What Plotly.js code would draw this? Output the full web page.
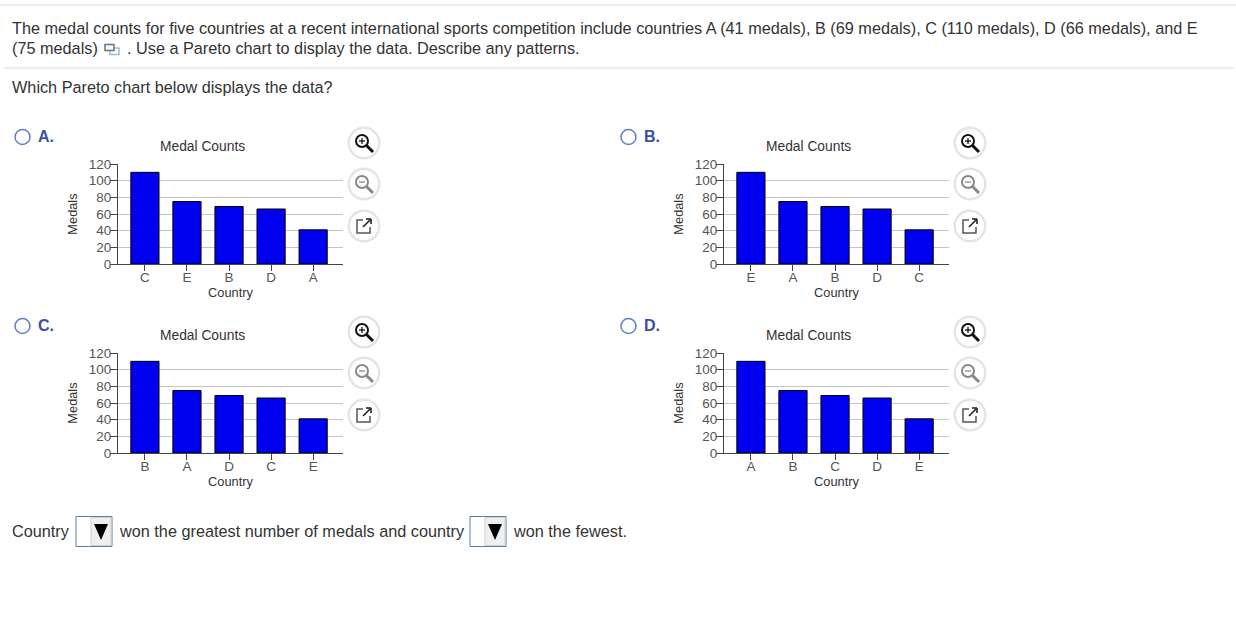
<!DOCTYPE html>
<html><head><meta charset="utf-8">
<script src="https://cdn.plot.ly/plotly-3.0.1.min.js"></script>
<style>html,body{margin:0;padding:0;background:#fff;overflow:hidden}#g{width:1236px;height:623px}</style>
</head><body><div id="g"></div>
<script>
const medals = [110, 75, 69, 66, 41];
const countriesA = ['C','E','B','D','A'];
const countriesB = ['E','A','B','D','C'];
const countriesC = ['B','A','D','C','E'];
const countriesD = ['A','B','C','D','E'];
const yTicks = [0,20,40,60,80,100,120];
const chartTitle = 'Medal Counts';
const xTitle = 'Country';
const yTitle = 'Medals';
const optionNames = ['A.','B.','C.','D.'];

const W=1236,H=623;
const px=x=>x/W, py=y=>1-y/H;
const FONT='"Liberation Sans", Arial, sans-serif';
const INK='#333333';
const BODY=16.25;
const panels=[
 {cats:countriesA,x0:118,top:164,rx:15,ry:136,n:optionNames[0]},
 {cats:countriesB,x0:724,top:164,rx:621,ry:136,n:optionNames[1]},
 {cats:countriesC,x0:118,top:353,rx:15,ry:325,n:optionNames[2]},
 {cats:countriesD,x0:724,top:353,rx:621,ry:325,n:optionNames[3]}
];
const data=[],layout={
 width:W,height:H,margin:{l:0,r:0,t:0,b:0},paper_bgcolor:'#fff',plot_bgcolor:'rgba(0,0,0,0)',
 showlegend:false,font:{family:FONT,color:INK,size:12},annotations:[],shapes:[],bargap:0.33
};
const note=(text,x,y,size,opt={})=>layout.annotations.push(Object.assign({text,x:px(x-2),y:py(y),xref:'paper',yref:'paper',
  showarrow:false,xanchor:'left',yanchor:'middle',font:{family:FONT,size,color:INK}},opt));
const rule=(x0,y0,x1,y1,color,width=1)=>layout.shapes.push({type:'line',xref:'paper',yref:'paper',x0:px(x0),x1:px(x1),y0:py(y0),y1:py(y1),line:{color,width}});
const circle=(cx,cy,r,fill,color,width=1)=>layout.shapes.push({type:'circle',xref:'paper',yref:'paper',x0:px(cx-r),x1:px(cx+r),y0:py(cy-r),y1:py(cy+r),fillcolor:fill,line:{color,width}});
const box=(x0,y0,x1,y1,fill,color,width=1)=>layout.shapes.push({type:'rect',xref:'paper',yref:'paper',x0:px(x0),x1:px(x1),y0:py(y0),y1:py(y1),fillcolor:fill,line:{color,width}});

function glass(cx,cy,color,sign){
  circle(cx,cy,16.5,'#e4e4e4','rgba(0,0,0,0)',0);
  circle(cx,cy,14,'#ffffff','rgba(0,0,0,0)',0);
  circle(cx-2,cy-2,6,'rgba(255,255,255,0)',color,2);
  rule(cx+2.5,cy+2.5,cx+9,cy+9,color,3);
  rule(cx-5,cy-2,cx+1,cy-2,color,1.3);
  if(sign) rule(cx-2,cy-5,cx-2,cy+1,color,1.3);
}
function popout(cx,cy){
  circle(cx,cy,16.5,'#e4e4e4','rgba(0,0,0,0)',0);
  circle(cx,cy,14,'#ffffff','rgba(0,0,0,0)',0);
  layout.shapes.push({type:'path',xref:'paper',yref:'paper',
    path:`M${px(cx-1)},${py(cy-6)} L${px(cx-7)},${py(cy-6)} L${px(cx-7)},${py(cy+7)} L${px(cx+6)},${py(cy+7)} L${px(cx+6)},${py(cy+1)}`,line:{color:'#555',width:1.5}});
  rule(cx-1,cy+1,cx+6,cy-6,'#222',1.6);
  rule(cx+2,cy-7,cx+7,cy-7,'#222',1.6);
  rule(cx+7,cy-7,cx+7,cy-2,'#222',1.6);
}

panels.forEach((p,i)=>{
  const s=i===0?'':String(i+1);
  data.push({type:'bar',x:p.cats,y:medals,xaxis:'x'+s,yaxis:'y'+s,
    marker:{color:'#0000f0',line:{color:'#000',width:1}},hoverinfo:'x+y'});
  layout['xaxis'+s]={domain:[px(p.x0),px(p.x0+225)],anchor:'y'+s,type:'category',categoryorder:'array',categoryarray:p.cats,
    range:[-0.64,4.71],showgrid:false,showline:true,linecolor:'#444',linewidth:1,ticks:'outside',ticklen:6,tickcolor:'#444',
    ticklabelstandoff:-5,tickfont:{family:FONT,size:13.5,color:'#555'},zeroline:false,fixedrange:true,
    title:{text:xTitle,standoff:3,font:{family:FONT,size:12.8,color:INK}}};
  layout['yaxis'+s]={domain:[py(p.top+100),py(p.top)],anchor:'x'+s,range:[0,120],tickmode:'array',tickvals:yTicks,
    showgrid:true,gridcolor:'#c4c4c4',gridwidth:1,showline:true,linecolor:'#444',linewidth:1,ticks:'outside',ticklen:7,tickcolor:'#444',
    ticklabelstandoff:-4,tickfont:{family:FONT,size:13.5,color:'#555'},zeroline:false,fixedrange:true,
    title:{text:yTitle,standoff:8,font:{family:FONT,size:12.8,color:INK}}};
  note(chartTitle,p.x0+84.5+2,p.top-18,13.8,{xanchor:'center'});
  circle(p.rx+7.5,p.ry+1,7.5,'#fff','#5f7fc4',1.5);
  note(p.n,p.rx+23,p.ry,16,{font:{family:FONT,size:16,color:'#3d4f9f'},text:'<b>'+p.n+'</b>'});
  const ix=p.x0+246;
  glass(ix,p.top-21,'#111',true);
  glass(ix,p.top+20,'#888',false);
  popout(ix,p.top+62);
});

rule(0,5,W,5,'#dcdcdc');
rule(4,68,W-2,68,'#dcdcdc');
note('The medal counts for five countries at a recent international sports competition include countries A (41 medals), B (69 medals), C (110 medals), D (66 medals), and E',12,28,BODY);
note('(75 medals)',12,48,BODY);
note('. Use a Pareto chart to display the data. Describe any patterns.',127,48,BODY);
note('Which Pareto chart below displays the data?',12,87,BODY);
box(110,48,119,54.5,'#fff','#a9b8c6',1.5);
box(105,44.5,114,50.5,'#fff','#5f7488',1.5);
note('Country',12,531,BODY);
note('won the greatest number of medals and country',119,531,BODY);
note('won the fewest.',513,531,BODY);
[[76,112],[470,506]].forEach(([a,b])=>{
  box(a,516.5,b,546.5,'#fff','#5b7fa5',1);
  box(a+15,517.5,b-1,545.5,'#efefef','#d0d0d0',1);
  layout.shapes.push({type:'path',xref:'paper',yref:'paper',
    path:`M${px(a+18)},${py(524)} L${px(a+32)},${py(524)} L${px(a+25)},${py(540)} Z`,fillcolor:'#000',line:{color:'#000',width:0}});
});
Plotly.newPlot('g',data,layout,{displayModeBar:false,staticPlot:true});
</script></body></html>
